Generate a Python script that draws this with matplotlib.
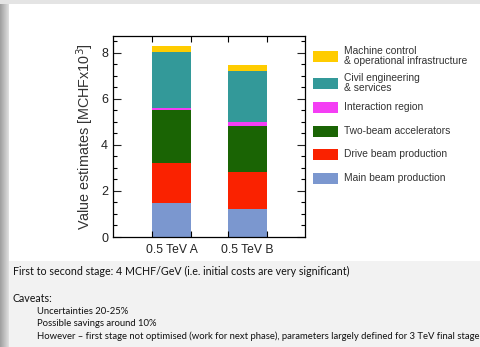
import numpy as np
import matplotlib
matplotlib.use("Agg")
import matplotlib.pyplot as plt
from matplotlib.patches import Rectangle
from matplotlib.ticker import MultipleLocator

# data (MCHF x 10^3), bottom to top
options = ["0.5 TeV A", "0.5 TeV B"]
components = ["Main beam production", "Drive beam production", "Two-beam accelerators",
              "Interaction region", "Civil engineering\n& services",
              "Machine control\n& operational infrastructure"]
main_beam = [1.46, 1.22]
drive_beam = [1.77, 1.59]
two_beam = [2.27, 2.02]
interaction = [0.11, 0.15]
civil = [2.41, 2.24]
machine = [0.26, 0.23]
values = [main_beam, drive_beam, two_beam, interaction, civil, machine]
colors = ["#7b97cf", "#fa2200", "#1a6404", "#f43ef4", "#339999", "#ffcc00"]

notes = ["First to second stage: 4 MCHF/GeV (i.e. initial costs are very significant)",
         "Caveats:"]
caveats = ["Uncertainties 20-25%",
           "Possible savings around 10%",
           "However \u2013 first stage not optimised (work for next phase), parameters largely defined for 3 TeV final stage"]

W, H = 481, 347
fig = plt.figure(figsize=(W / 100, H / 100), dpi=100)
fig.patch.set_facecolor("white")

# slide background
bg = fig.add_axes([0, 0, 1, 1], zorder=-1)
bg.axis("off")
bg.add_patch(Rectangle((0, 0), W, 4, color="#e4e4e4", lw=0))
grad = np.linspace(0.62, 0.88, 50).reshape(1, -1)
bg.imshow(np.dstack([grad, grad, grad]), extent=(0, 9, H, 0), aspect="auto")
bg.add_patch(Rectangle((9, 261), W - 9, H - 261, color="#f2f2f2", lw=0))
bg.set_xlim(0, W)
bg.set_ylim(H, 0)

tf = "Lato"
bg.text(13, 271, notes[0], fontsize=7.7, family=tf, color="#111111", va="center")
bg.text(13, 298, notes[1], fontsize=7.7, family=tf, color="#111111", va="center")
for i, line in enumerate(caveats):
    bg.text(37, 312 + i * 12, line, fontsize=6.85, family=tf, color="#111111", va="center")

# legend, drawn by hand (top entry first)
row_y = [56, 83, 107, 131, 154, 178]
for yc, name, col in zip(row_y, components[::-1], colors[::-1]):
    bg.add_patch(Rectangle((313, yc - 5.5), 25, 11, color=col, lw=0))
    bg.text(344, yc, name, fontsize=7.4, family="Liberation Sans", color="#333333",
            va="center", linespacing=0.95)

# chart
ax = fig.add_axes([113 / W, 1 - 237 / H, 192 / W, 201 / H])
x = np.arange(len(options))
bw = 0.51
bottom = np.zeros(len(options))
for vals, col, name in zip(values, colors, components):
    ax.bar(x, vals, bw, bottom=bottom, color=col, label=name, lw=0)
    bottom += np.array(vals)

ax.set_xlim(-0.77, 1.757)
ax.set_ylim(0, 8.72)
ax.set_xticks(x)
ax.set_xticklabels(options, fontsize=8.7, family="Liberation Sans", color="#222222")
ax.set_xticks([p + s * bw / 2 for p in x for s in (-1, 1)], minor=True)
ax.tick_params(axis="x", which="major", length=0, pad=5)
ax.tick_params(axis="x", which="minor", direction="in", length=4, top=True, width=0.8)
ax.yaxis.set_major_locator(MultipleLocator(2))
ax.yaxis.set_minor_locator(MultipleLocator(0.5))
ax.tick_params(axis="y", which="both", direction="in", right=True, width=0.8)
ax.tick_params(axis="y", which="major", length=6, labelsize=9, colors="#222222")
ax.tick_params(axis="y", which="minor", length=3)
for lab in ax.get_yticklabels():
    lab.set_family("Liberation Sans")
for sp in ax.spines.values():
    sp.set_linewidth(0.9)
ax.set_ylabel("Value estimates [MCHFx10$^3$]", fontsize=10.4, family="Liberation Sans",
              color="#333333", labelpad=4)

fig.savefig("out.png", dpi=100)
